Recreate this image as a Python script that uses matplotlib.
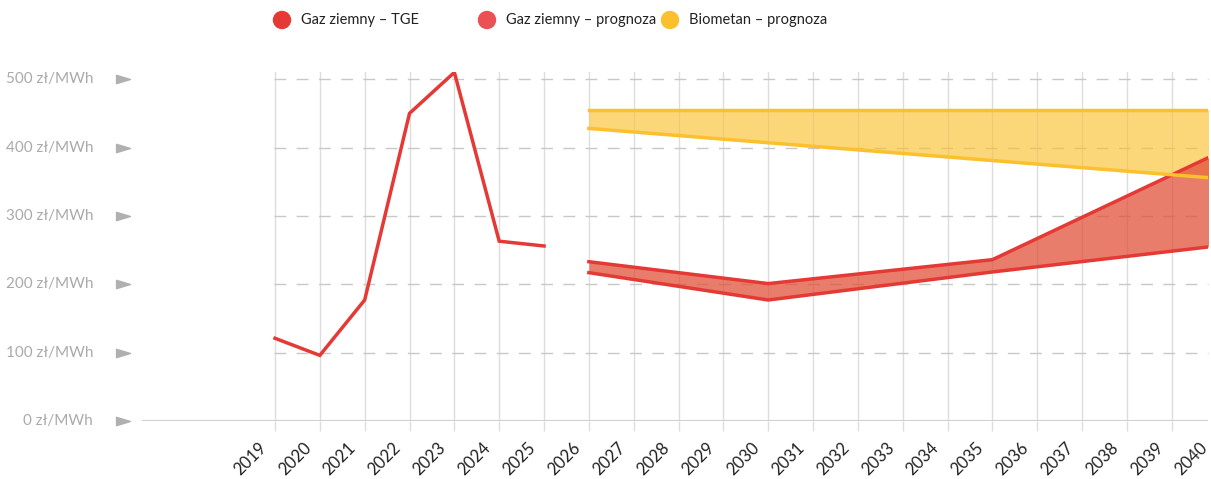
import numpy as np
import matplotlib
matplotlib.use("Agg")
import matplotlib.pyplot as plt
import matplotlib.transforms as mtransforms
from matplotlib.path import Path

plt.rcParams['font.family'] = ['Lato', 'DejaVu Sans']

# dane
years = [str(y) for y in range(2019, 2041)]
hist_years = [2019, 2020, 2021, 2022, 2023, 2024, 2025]
hist_vals = [121, 96, 177, 450, 510, 263, 256]

fc_years = [2026, 2030, 2035, 2040]
gas_upper = [233, 201, 236, 391]
gas_lower = [217, 177, 218, 256]
bio_upper = [455, 455, 455, 455]
bio_lower = [428, 407, 381, 355]

y_ticks = [0, 100, 200, 300, 400, 500]
y_labels = [f"{v} zł/MWh" for v in y_ticks]
legend_labels = ["Gaz ziemny – TGE", "Gaz ziemny – prognoza", "Biometan – prognoza"]

RED = "#E53935"
RED_FILL = "#E2513A"
RED_LEG = "#EB5055"
YEL = "#FBC02D"
GRID = "#DDDDDD"
TXT_GRAY = "#AAAAAA"

W, H = 1211, 479
fig = plt.figure(figsize=(W / 100, H / 100), dpi=100)
ax = fig.add_axes([142 / W, (H - 421) / H, (1208 - 142) / W, (421 - 72) / H])

def idx(yrs):
    return [y - 2019 for y in yrs]

xh = idx(hist_years)
xf = idx(fc_years)

# siatka
for i in range(len(years)):
    ax.axvline(i, color=GRID, lw=1, zorder=0)
for v in y_ticks[1:]:
    ax.plot([150 / W, 1], [v, v], transform=ax.get_yaxis_transform(), color="#C8C8C8",
            lw=1, dashes=(8.5, 7.5), zorder=0.5, clip_on=False)
ax.axhline(0, color="#D0D0D0", lw=1.5, zorder=0.5)

# wypełnienia
ax.fill_between(xf, bio_lower, bio_upper, color=YEL, alpha=0.63, lw=0, zorder=1)
ax.fill_between(xf, gas_lower, gas_upper, color=RED_FILL, alpha=0.75, lw=0, zorder=2)

# linie
ax.plot(xh, hist_vals, color=RED, lw=2.5, zorder=4, solid_joinstyle='miter')
ax.plot(xf, gas_upper, color=RED, lw=2.5, zorder=4)
ax.plot(xf, gas_lower, color=RED, lw=2.5, zorder=4)
ax.plot(xf, bio_upper, color=YEL, lw=2.5, zorder=5)
ax.plot(xf, bio_lower, color=YEL, lw=2.5, zorder=5)

for s in ax.spines.values():
    s.set_visible(False)

ax.set_xticks(range(len(years) - 1))
ax.set_xticklabels([])
ax.tick_params(axis='x', length=7.5, width=1, color=GRID)
ax.set_yticks([])
ax.set_xlim((142 - 275) / 44.84, (1208 - 275) / 44.84)
ax.set_ylim(0, 510.5)

# etykiety lat
xtr = mtransforms.blended_transform_factory(ax.transData, ax.transAxes)
off = mtransforms.ScaledTranslation(-17 / 100, -19 / 100, fig.dpi_scale_trans)
for i, lab in enumerate(years):
    ax.text(i, 0, lab, transform=xtr + off, rotation=45, ha='right', va='top',
            rotation_mode='anchor', fontsize=12, color="#222222", clip_on=False)

ytr = mtransforms.blended_transform_factory(fig.transFigure, ax.transData)
for v, lab in zip(y_ticks, y_labels):
    fig.text(93 / W, v, lab, transform=ytr, ha='right', va='center', fontsize=11, color=TXT_GRAY)
tri = Path([(-1, -0.6), (1, 0), (-1, 0.6), (-1, -0.6)],
           [Path.MOVETO, Path.LINETO, Path.LINETO, Path.CLOSEPOLY])
ax.plot([123 / W] * len(y_ticks), y_ticks, transform=ytr, linestyle='none', marker=tri,
        markersize=10, color="#B0B0B0", clip_on=False)

# legenda
leg_x = [282, 487, 670]
leg_c = [RED, RED_LEG, YEL]
for x, c, lab in zip(leg_x, leg_c, legend_labels):
    fig.patches.append(matplotlib.patches.Ellipse((x / W, 1 - 20 / H), 17 / W, 17 / H,
                                                  transform=fig.transFigure, color=c))
    fig.text((x + 19) / W, 1 - 20 / H, lab, ha='left', va='center', fontsize=10.5, color="#222222")

fig.savefig("out.png", dpi=100)
